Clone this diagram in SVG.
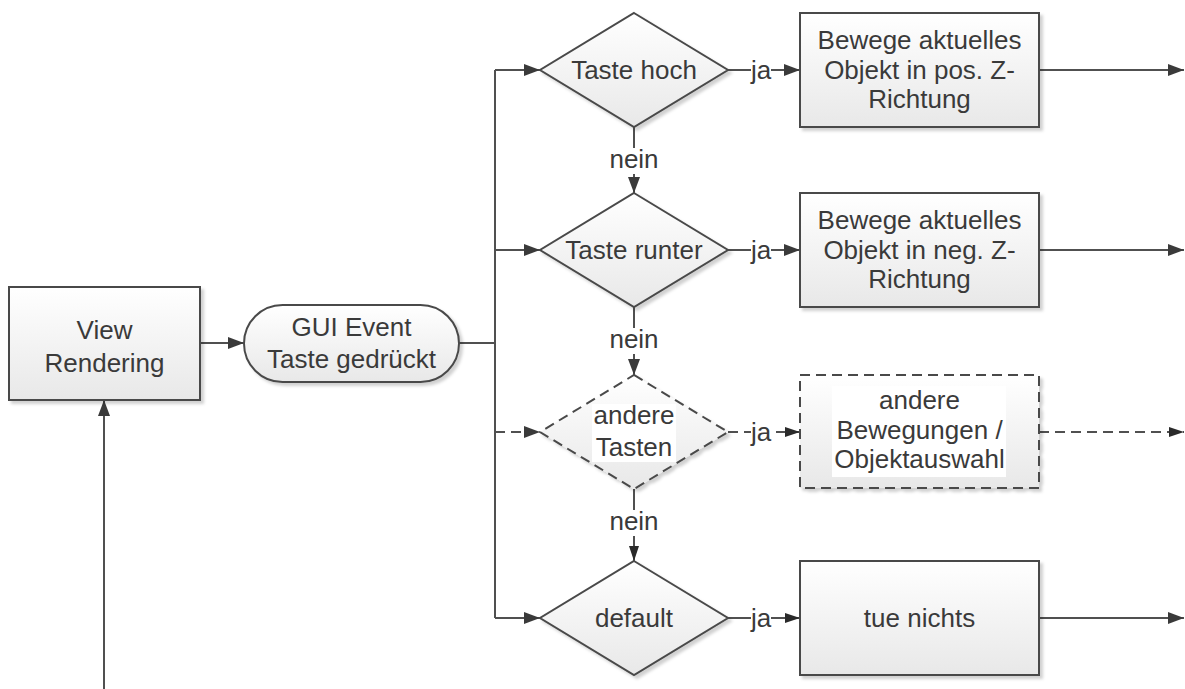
<svg xmlns="http://www.w3.org/2000/svg" width="1185" height="689" viewBox="0 0 1185 689">
  <defs>
    <linearGradient id="fillGrad" x1="0" y1="0" x2="0" y2="1">
      <stop offset="0" stop-color="#ffffff"/>
      <stop offset="1" stop-color="#e8e8e8"/>
    </linearGradient>
    <filter id="shadow" x="-10%" y="-10%" width="125%" height="130%">
      <feDropShadow dx="3" dy="3" stdDeviation="1.6" flood-color="#000" flood-opacity="0.18"/>
    </filter>
    <marker id="arrow" markerUnits="userSpaceOnUse" markerWidth="16" markerHeight="12" refX="16" refY="6" orient="auto">
      <path d="M0,0 L16,6 L0,12 z" fill="#3a3a3a"/>
    </marker>
    <marker id="arrowSmall" markerUnits="userSpaceOnUse" markerWidth="15" markerHeight="10" refX="15" refY="5" orient="auto">
      <path d="M0,0 L15,5 L0,10 z" fill="#2a2a2a"/>
    </marker>
    <style>
      .shape { fill: url(#fillGrad); stroke: #4a4a4a; stroke-width: 2; filter: url(#shadow); }
      .dashed { stroke-dasharray: 10 6; }
      .conn { fill: none; stroke: #505050; stroke-width: 2; }
      .conn-arrow { marker-end: url(#arrow); }
      .conn-arrow-s { marker-end: url(#arrowSmall); }
      .lbl-bg { fill: #ffffff; }
      .txt { font-family: "Liberation Sans", Arial, sans-serif; font-size: 26px; fill: #3a3a3a; text-anchor: middle; }
    </style>
  </defs>
  <rect width="1185" height="689" fill="#ffffff"/>

  <!-- connectors -->
  <g id="connectors">
    <!-- feedback into View Rendering -->
    <line class="conn conn-arrow" x1="104" y1="689" x2="104" y2="400"/>
    <!-- View Rendering -> GUI Event -->
    <line class="conn conn-arrow" x1="200" y1="343" x2="244" y2="343"/>
    <!-- GUI Event -> trunk -->
    <polyline class="conn" points="459,343 495,343"/>
    <line class="conn" x1="495" y1="70" x2="495" y2="618"/>
    <!-- trunk -> decisions -->
    <line class="conn conn-arrow" x1="495" y1="70" x2="540" y2="70"/>
    <line class="conn conn-arrow" x1="495" y1="250" x2="540" y2="250"/>
    <line class="conn conn-arrow dashed" x1="495" y1="432" x2="540" y2="432"/>
    <line class="conn conn-arrow" x1="495" y1="618" x2="540" y2="618"/>

    <!-- nein chain -->
    <line class="conn conn-arrow" x1="634" y1="127" x2="634" y2="193"/>
    <line class="conn conn-arrow" x1="634" y1="307" x2="634" y2="375"/>
    <line class="conn conn-arrow-s" x1="634" y1="489" x2="634" y2="561"/>

    <!-- ja branches -->
    <line class="conn conn-arrow" x1="728" y1="70" x2="800" y2="70"/>
    <line class="conn conn-arrow" x1="728" y1="250" x2="800" y2="250"/>
    <line class="conn conn-arrow-s dashed" x1="728" y1="432" x2="800" y2="432"/>
    <line class="conn conn-arrow-s" x1="728" y1="618" x2="800" y2="618"/>

    <!-- outgoing -->
    <line class="conn conn-arrow" x1="1039" y1="70" x2="1184" y2="70"/>
    <line class="conn conn-arrow" x1="1039" y1="250" x2="1184" y2="250"/>
    <line class="conn conn-arrow-s dashed" x1="1039" y1="432" x2="1184" y2="432"/>
    <line class="conn conn-arrow" x1="1039" y1="618" x2="1184" y2="618"/>

    <!-- labels -->
    <g class="labels">
      <rect class="lbl-bg" x="610" y="148" width="48" height="26"/>
      <text class="txt" x="634" y="168">nein</text>
      <rect class="lbl-bg" x="610" y="328" width="48" height="26"/>
      <text class="txt" x="634" y="348">nein</text>
      <rect class="lbl-bg" x="610" y="510" width="48" height="26"/>
      <text class="txt" x="634" y="530">nein</text>

      <rect class="lbl-bg" x="751" y="58" width="20" height="28"/>
      <text class="txt" x="761" y="79">ja</text>
      <rect class="lbl-bg" x="751" y="238" width="20" height="28"/>
      <text class="txt" x="761" y="259">ja</text>
      <rect class="lbl-bg" x="751" y="420" width="20" height="28"/>
      <text class="txt" x="761" y="441">ja</text>
      <rect class="lbl-bg" x="751" y="606" width="20" height="28"/>
      <text class="txt" x="761" y="627">ja</text>
    </g>
  </g>

  <!-- nodes -->
  <g id="view-rendering">
    <rect class="shape" x="9" y="287" width="191" height="113"/>
    <text class="txt" x="104.5" y="339">View</text>
    <text class="txt" x="104.5" y="372">Rendering</text>
  </g>

  <g id="gui-event">
    <rect class="shape" x="244" y="305" width="215" height="77" rx="38.5" ry="38.5"/>
    <text class="txt" x="351.5" y="336">GUI Event</text>
    <text class="txt" x="351.5" y="368">Taste gedrückt</text>
  </g>

  <g id="dec-taste-hoch">
    <polygon class="shape" points="634,13 728,70 634,127 540,70"/>
    <text class="txt" x="634" y="79">Taste hoch</text>
  </g>

  <g id="dec-taste-runter">
    <polygon class="shape" points="634,193 728,250 634,307 540,250"/>
    <text class="txt" x="634" y="259">Taste runter</text>
  </g>

  <g id="dec-andere-tasten">
    <polygon class="shape dashed" points="634,375 728,432 634,489 540,432"/>
    <rect x="592" y="404" width="84" height="58" fill="#ffffff"/>
    <text class="txt" x="634" y="424">andere</text>
    <text class="txt" x="634" y="456">Tasten</text>
  </g>

  <g id="dec-default">
    <polygon class="shape" points="634,561 728,618 634,675 540,618"/>
    <text class="txt" x="634" y="627">default</text>
  </g>

  <g id="act-pos-z">
    <rect class="shape" x="800" y="13" width="239" height="114"/>
    <text class="txt" x="919.5" y="49">Bewege aktuelles</text>
    <text class="txt" x="919.5" y="79">Objekt in pos. Z-</text>
    <text class="txt" x="919.5" y="108">Richtung</text>
  </g>

  <g id="act-neg-z">
    <rect class="shape" x="800" y="193" width="239" height="114"/>
    <text class="txt" x="919.5" y="229">Bewege aktuelles</text>
    <text class="txt" x="919.5" y="259">Objekt in neg. Z-</text>
    <text class="txt" x="919.5" y="288">Richtung</text>
  </g>

  <g id="act-andere">
    <rect class="shape dashed" x="800" y="375" width="239" height="113"/>
    <rect x="832" y="386" width="174" height="91" fill="#ffffff"/>
    <text class="txt" x="919.5" y="409">andere</text>
    <text class="txt" x="919.5" y="439">Bewegungen /</text>
    <text class="txt" x="919.5" y="468">Objektauswahl</text>
  </g>

  <g id="act-nichts">
    <rect class="shape" x="800" y="561" width="239" height="114"/>
    <text class="txt" x="919.5" y="627">tue nichts</text>
  </g>
</svg>
